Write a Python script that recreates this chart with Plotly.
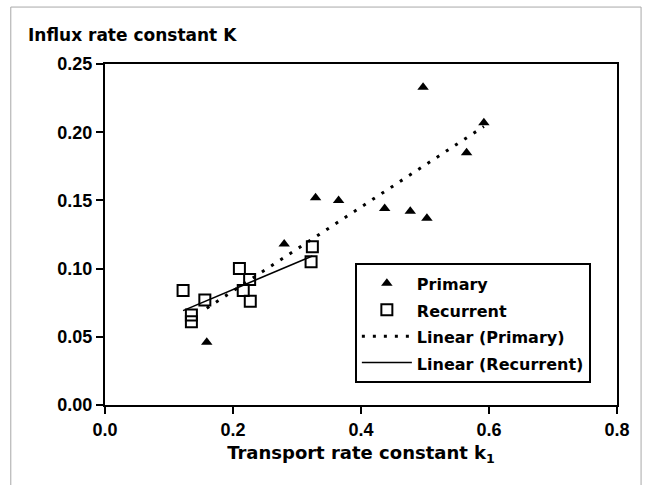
import numpy as np
import plotly.graph_objects as go

# Data
primary_k1 = [0.497, 0.592, 0.565, 0.329, 0.365, 0.437, 0.477, 0.503, 0.280, 0.159]
primary_K = [0.233, 0.207, 0.185, 0.152, 0.150, 0.144, 0.142, 0.137, 0.118, 0.046]

recurrent_k1 = [0.122, 0.135, 0.135, 0.156, 0.210, 0.216, 0.227, 0.226, 0.322, 0.324]
recurrent_K = [0.084, 0.066, 0.061, 0.077, 0.100, 0.084, 0.076, 0.092, 0.105, 0.116]

x_ticks = [0.0, 0.2, 0.4, 0.6, 0.8]
y_ticks = [0.00, 0.05, 0.10, 0.15, 0.20, 0.25]

series_names = ["Primary", "Recurrent", "Linear (Primary)", "Linear (Recurrent)"]


def trend(xs, ys):
    m, b = np.polyfit(xs, ys, 1)
    x0, x1 = min(xs), max(xs)
    return [x0, x1], [m * x0 + b, m * x1 + b]


def legend_label(s):
    return '<span style="font-size:16px">' + s + "</span>"


tp_x, tp_y = trend(primary_k1, primary_K)
tr_x, tr_y = trend(recurrent_k1, recurrent_K)

TICKFONT = "Liberation Sans"
WIDEFONT = "DejaVu Sans"

fig = go.Figure()
fig.add_trace(go.Scatter(x=primary_k1, y=primary_K, mode="markers", name=legend_label(series_names[0]),
                         marker=dict(symbol="triangle-up", size=10, color="black")))
fig.add_trace(go.Scatter(x=recurrent_k1, y=recurrent_K, mode="markers", name=legend_label(series_names[1]),
                         marker=dict(symbol="square-open", size=11, color="black",
                                     line=dict(width=2, color="black"))))
fig.add_trace(go.Scatter(x=tp_x, y=tp_y, mode="lines", name=legend_label(series_names[2]),
                         line=dict(color="black", width=3, dash="3px,8px")))
fig.add_trace(go.Scatter(x=tr_x, y=tr_y, mode="lines", name=legend_label(series_names[3]),
                         line=dict(color="black", width=1.5)))

axis_common = dict(showline=True, linecolor="black", linewidth=2, mirror=True,
                   ticks="outside", ticklen=7, tickwidth=2, tickcolor="black",
                   showgrid=False, zeroline=False,
                   tickfont=dict(family=TICKFONT, size=18, color="black", weight="bold"))

fig.update_xaxes(range=[0, 0.8], tickvals=x_ticks, tickformat=".1f",
                 title=dict(text="Transport rate constant k<sub>1</sub>",
                            font=dict(family=WIDEFONT, size=18, color="black", weight="bold"),
                            standoff=8),
                 **axis_common)
fig.update_yaxes(range=[0, 0.25], tickvals=y_ticks, tickformat=".2f", **axis_common)

fig.add_annotation(text="Influx rate constant K", xref="paper", yref="paper",
                   x=-0.154, y=1.085, xanchor="left", yanchor="middle", showarrow=False,
                   font=dict(family=WIDEFONT, size=17, color="black", weight="bold"))

# outer chart frame
fig.add_shape(type="rect", xref="paper", yref="paper",
              x0=-0.184, x1=1.047, y0=-0.3, y1=1.167,
              line=dict(color="#a8a8a8", width=1), layer="below")

fig.update_layout(
    width=647, height=485,
    margin=dict(l=105, r=30, t=64, b=80),
    paper_bgcolor="white", plot_bgcolor="white",
    showlegend=True,
    legend=dict(x=0.488, y=0.416, xanchor="left", yanchor="top",
                bgcolor="white", bordercolor="black", borderwidth=2,
                itemwidth=50,
                font=dict(family=WIDEFONT, size=18, color="black", weight="bold"),
                tracegroupgap=0),
    font=dict(family=TICKFONT, color="black"),
)

fig.write_html("out.html")
